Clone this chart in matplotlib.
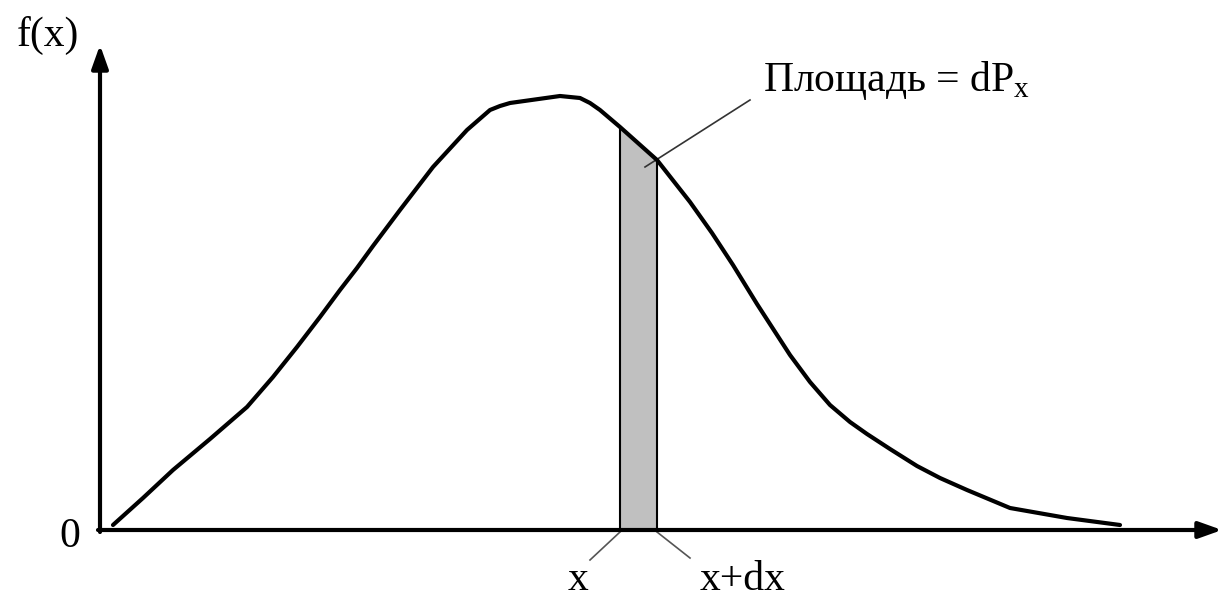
import numpy as np
import matplotlib
matplotlib.use("Agg")
from matplotlib import pyplot as plt

plt.rcParams['font.family'] = ['Liberation Serif', 'DejaVu Serif']
plt.rcParams['mathtext.fontset'] = 'custom'
plt.rcParams['mathtext.rm'] = 'Liberation Serif'

# density curve f(x) (origin at the axes corner)
curve_x = [13, 43, 73, 110, 147, 173, 197, 220, 240, 257, 273, 300, 333, 367,
           390, 400, 410, 460, 480, 490, 500, 520, 557, 590, 612, 633, 657,
           690, 710, 730, 750, 767, 790, 817, 840, 867, 910, 967, 1020]
curve_y = [5, 32, 60, 91, 123, 153, 183, 213, 240, 262, 284, 320, 363, 400,
           420, 424, 427, 434, 432, 427, 420, 403, 370, 328, 297, 265, 226,
           175, 148, 125, 108, 96, 81, 64, 52, 40, 22, 12, 5]

# strip [x, x+dx]
strip_x = [520, 557]
strip_y = [403, 370]

area_label = 'Площадь = dP$_{\\mathrm{x}}$'
x_labels = ['x', 'x+dx']

fig = plt.figure(figsize=(12.24, 6), dpi=100)
ax = fig.add_axes([0, 0, 1, 1])
ax.set_xlim(-100, 1124)
ax.set_ylim(-70, 530)
ax.axis('off')

# axes with arrow heads
ax.annotate('', xy=(1122, 0), xytext=(-2, 0),
            arrowprops=dict(arrowstyle='-|>,head_length=1.4,head_width=0.5',
                            color='black', lw=3, shrinkA=0, shrinkB=0))
ax.annotate('', xy=(0, 485), xytext=(0, -2),
            arrowprops=dict(arrowstyle='-|>,head_length=1.4,head_width=0.5',
                            color='black', lw=3, shrinkA=0, shrinkB=0))

# shaded strip
ax.fill_between(strip_x, 0, strip_y, color='#c0c0c0', lw=0, zorder=1)
for sx, sy in zip(strip_x, strip_y):
    ax.plot([sx, sx], [0, sy], color='black', lw=1.5, zorder=2)

ax.plot(curve_x, curve_y, color='black', lw=3, solid_joinstyle='round',
        solid_capstyle='round', zorder=3)

# labels
fs = 30
ax.text(-83, 495, 'f(x)', fontsize=fs, ha='left', va='center')
ax.text(-30, -7, '0', fontsize=fs, ha='center', va='center')

ax.plot([strip_x[0], 490], [-2, -30], color='#555555', lw=1.2)
ax.plot([strip_x[1], 590], [-2, -28], color='#555555', lw=1.2)
ax.text(478, -50, x_labels[0], fontsize=fs, ha='center', va='center')
ax.text(643, -50, x_labels[1], fontsize=fs, ha='center', va='center')

ax.plot([545, 650], [363, 430], color='#333333', lw=1.2)
ax.text(663, 450, area_label, fontsize=fs, ha='left', va='center')

fig.savefig('out.png', dpi=100)
